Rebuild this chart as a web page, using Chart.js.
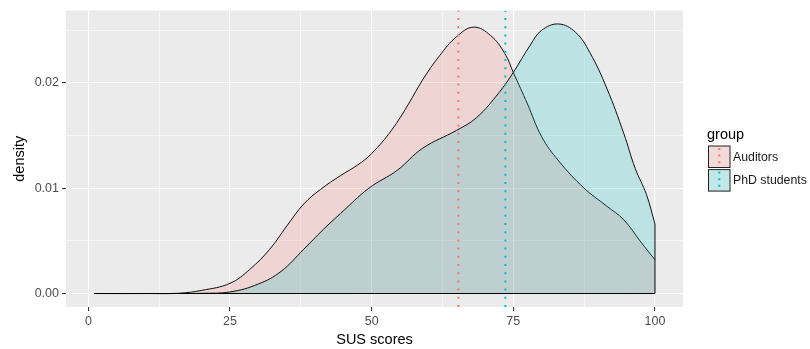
<!DOCTYPE html>
<html>
<head>
<meta charset="utf-8">
<title>SUS scores density</title>
<script src="https://cdn.jsdelivr.net/npm/chart.js@4.4.1/dist/chart.umd.min.js"></script>
<style>
  html, body { margin: 0; padding: 0; background: #fff; }
  #wrap { width: 810px; height: 349px; }
</style>
</head>
<body>
<div id="wrap"><canvas id="density" width="810" height="349"></canvas></div>
<script>
// density estimates
var auditorsX = [1, 10, 16, 20, 25, 28.5, 32, 35, 38, 41, 44.5, 47.5, 50, 53.5, 56.5, 59, 62, 65, 68, 71, 73.5, 75, 77.5, 80, 83, 87.5, 91.5, 94.5, 97.5, 100];
var auditorsY = [0, 0, 0.00003, 0.0003, 0.00097, 0.0023, 0.0042, 0.0064, 0.0085, 0.0099, 0.0112, 0.0122, 0.0133, 0.0155, 0.0180, 0.0203, 0.0226, 0.0244, 0.0253, 0.0245, 0.0228, 0.0210, 0.0180, 0.0149, 0.0126, 0.0100, 0.0083, 0.0070, 0.0049, 0.0032];

var phdX = [16.5, 20, 25, 30, 34, 38, 41.5, 44.5, 49.5, 54.5, 59, 65, 68.5, 72.5, 75, 78, 80, 83, 86, 88.5, 91.5, 94.5, 96.5, 98.5, 100];
var phdY = [0, 0.00002, 0.00015, 0.0009, 0.0021, 0.0042, 0.0061, 0.0076, 0.0100, 0.0117, 0.0138, 0.0155, 0.0167, 0.0191, 0.0210, 0.0236, 0.0250, 0.0256, 0.0248, 0.0229, 0.0195, 0.0152, 0.0119, 0.0094, 0.0066];

// group means (dotted lines)
var groupNames = ['Auditors', 'PhD students'];
var groupMeans = [65.3, 73.6];

// tick labels
var xTicks = [0, 25, 50, 75, 100];
var yTicks = [0, 0.01, 0.02];

var groupColors = ['#F8766D', '#00BFC4'];
var groupFills = ['rgba(248,118,109,0.2)', 'rgba(0,191,196,0.2)'];
var FONT = '"Liberation Sans", Arial, Helvetica, sans-serif';

function pts(xs, ys) {
  return xs.map(function (x, i) { return { x: x, y: ys[i] }; });
}

// ggplot style 5% expansion of the data range
var allX = auditorsX.concat(phdX), allY = auditorsY.concat(phdY);
var xLo = Math.min.apply(null, allX), xHi = Math.max.apply(null, allX);
var yLo = 0, yHi = Math.max.apply(null, allY);
var xMin = xLo - 0.05 * (xHi - xLo), xMax = xHi + 0.05 * (xHi - xLo);
var yMin = yLo - 0.05 * (yHi - yLo), yMax = yHi + 0.05 * (yHi - yLo);

function withMinor(major, lo, hi) {
  var half = (major[1] - major[0]) / 2, out = [];
  for (var v = major[0] - half; v <= hi + 1e-9; v += half) {
    if (v >= lo) out.push(+v.toFixed(6));
  }
  return out;
}
function isMajor(v, major) {
  return major.some(function (m) { return Math.abs(m - v) < 1e-9; });
}

var lastX = auditorsX[auditorsX.length - 1];
var outline = [
  { x: auditorsX[0], y: 0 },
  { x: lastX, y: 0 },
  { x: lastX, y: Math.max(auditorsY[auditorsY.length - 1], phdY[phdY.length - 1]) }
];

var datasets = [
  {
    label: groupNames[0], data: pts(auditorsX, auditorsY), order: 4,
    fill: 'origin', backgroundColor: groupFills[0], borderColor: '#111', borderWidth: 1,
    tension: 0.4, pointRadius: 0
  },
  {
    label: groupNames[1], data: pts(phdX, phdY), order: 3,
    fill: 'origin', backgroundColor: groupFills[1], borderColor: '#111', borderWidth: 1,
    tension: 0.4, pointRadius: 0
  },
  {
    label: 'outline', data: outline, order: 2,
    fill: false, borderColor: '#000', borderWidth: 1, pointRadius: 0, tension: 0
  }
];
groupMeans.forEach(function (m, i) {
  datasets.push({
    label: groupNames[i] + ' mean', data: [{ x: m, y: yMin }, { x: m, y: yMax }], order: 1 - i,
    fill: false, borderColor: groupColors[i], borderWidth: 2, borderDash: [2, 6.2],
    borderCapStyle: 'butt', pointRadius: 0, tension: 0
  });
});

var panelBg = {
  id: 'panelBg',
  beforeDraw: function (chart) {
    var c = chart.ctx, a = chart.chartArea;
    c.save();
    c.fillStyle = '#fff';
    c.fillRect(0, 0, chart.width, chart.height);
    c.fillStyle = '#EBEBEB';
    c.fillRect(a.left, a.top, a.right - a.left, a.bottom - a.top);
    c.restore();
  }
};

// ggplot like legend on the right
var groupLegend = {
  id: 'groupLegend',
  afterDraw: function (chart) {
    var c = chart.ctx;
    c.save();
    c.fillStyle = '#000';
    c.font = '14.5px ' + FONT;
    c.textAlign = 'left';
    c.textBaseline = 'alphabetic';
    c.fillText('group', 707, 138.5);
    groupNames.forEach(function (name, i) {
      var left = 708.5, top = 146 + i * 23.6, w = 21.5, h = 21.5;
      c.fillStyle = '#F2F2F2';
      c.fillRect(left, top, w, h);
      c.fillStyle = groupFills[i];
      c.fillRect(left, top, w, h);
      c.strokeStyle = '#222';
      c.lineWidth = 1;
      c.strokeRect(left, top, w, h);
      c.beginPath();
      c.setLineDash([2, 4.6]);
      c.strokeStyle = groupColors[i];
      c.lineWidth = 2;
      c.moveTo(left + w / 2, top + 2);
      c.lineTo(left + w / 2, top + h);
      c.stroke();
      c.setLineDash([]);
      c.fillStyle = '#1a1a1a';
      c.font = '12.3px ' + FONT;
      c.textBaseline = 'middle';
      c.fillText(name, 733, top + h / 2 + 0.5);
    });
    c.restore();
  }
};

function gridOpts(major) {
  return {
    color: '#FFFFFF',
    lineWidth: function (ctx) { return ctx.tick && isMajor(ctx.tick.value, major) ? 1.1 : 0.55; },
    tickColor: function (ctx) { return ctx.tick && isMajor(ctx.tick.value, major) ? '#333333' : 'rgba(0,0,0,0)'; },
    tickLength: 4,
    tickWidth: 1.1
  };
}

new Chart(document.getElementById('density'), {
  type: 'line',
  data: { datasets: datasets },
  plugins: [panelBg, groupLegend],
  options: {
    responsive: false,
    animation: false,
    devicePixelRatio: 1,
    layout: { padding: { left: 0, top: 10, right: 127, bottom: 0 } },
    plugins: { legend: { display: false }, tooltip: { enabled: false } },
    scales: {
      x: {
        type: 'linear', min: xMin, max: xMax, bounds: 'data',
        afterBuildTicks: function (s) {
          s.ticks = withMinor(xTicks, xMin, xMax).map(function (v) { return { value: v }; });
        },
        afterFit: function (s) { s.height = 42; },
        ticks: {
          autoSkip: false, maxRotation: 0, padding: 3, color: '#4D4D4D',
          font: { family: FONT, size: 12.5 },
          callback: function (v) { return isMajor(v, xTicks) ? String(v) : ''; }
        },
        grid: gridOpts(xTicks),
        border: { display: false },
        title: {
          display: true, text: 'SUS scores', color: '#000',
          font: { family: FONT, size: 14.5 }, padding: { top: 0, bottom: 0 }
        }
      },
      y: {
        type: 'linear', min: yMin, max: yMax, bounds: 'data',
        afterBuildTicks: function (s) {
          s.ticks = withMinor(yTicks, yMin, yMax).map(function (v) { return { value: v }; });
        },
        afterFit: function (s) { s.width = 66; },
        ticks: {
          autoSkip: false, padding: 3, color: '#4D4D4D',
          font: { family: FONT, size: 12.5 },
          callback: function (v) { return isMajor(v, yTicks) ? v.toFixed(2) : ''; }
        },
        grid: gridOpts(yTicks),
        border: { display: false },
        title: {
          display: true, text: 'density', color: '#000',
          font: { family: FONT, size: 14.5 }, padding: { top: 11, bottom: 0 }
        }
      }
    }
  }
});
</script>
</body>
</html>
